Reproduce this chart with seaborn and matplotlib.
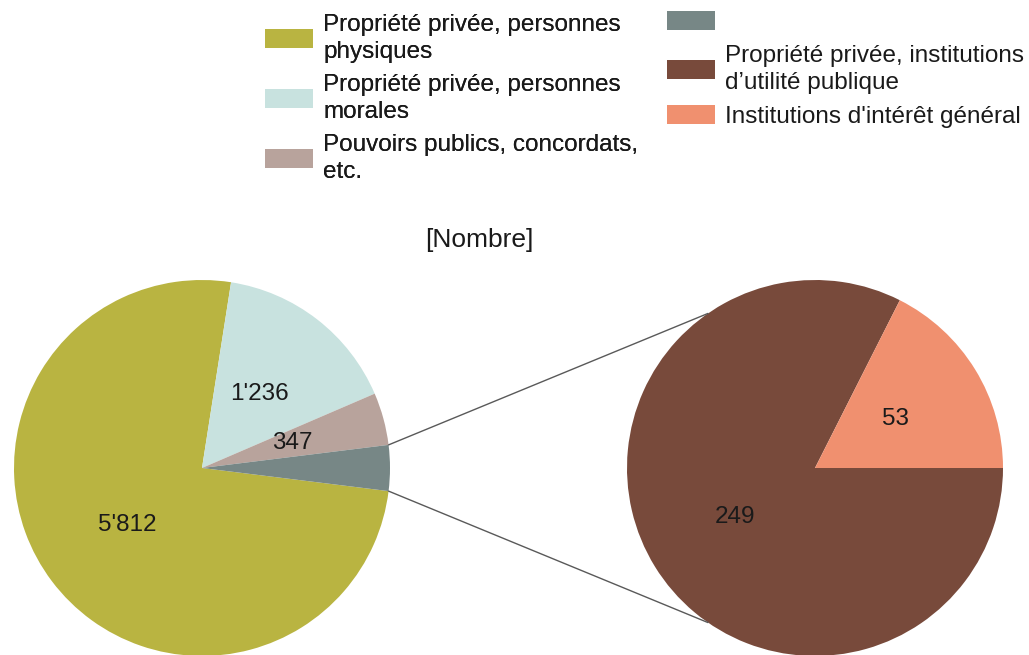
import numpy as np
import matplotlib.pyplot as plt
import seaborn as sns
from matplotlib.patches import Patch

# data
main_labels = ["Propriété privée, personnes\nphysiques",
               "Propriété privée, personnes\nmorales",
               "Pouvoirs publics, concordats,\netc.",
               " "]
sub_labels = ["Propriété privée, institutions\nd’utilité publique",
              "Institutions d'intérêt général"]
sub_values = [249, 53]
main_values = [5812, 1236, 347, sum(sub_values)]
main_colors = ["#b9b441", "#c8e2df", "#b8a39c", "#778786"]
sub_colors = ["#784a3b", "#f0906f"]
title = "[Nombre]"

sns.set_theme(style="white")
plt.rcParams['font.family'] = ['Liberation Sans', 'DejaVu Sans']
FS = 17.5


def value_fmt(values, hide=()):
    it = iter(values)

    def f(p):
        v = next(it)
        return "" if v in hide else f"{v:,}".replace(",", "'")
    return f


fig = plt.figure(figsize=(10.29, 6.55), dpi=100)
ax = fig.add_axes([0, 0, 1, 1])

R = 188
c_left = (202, 187)
c_right = (815, 187)

total = sum(main_values)
half = 360 * main_values[-1] / total / 2
ax.pie(main_values, colors=main_colors, radius=R, center=c_left,
       startangle=-half, counterclock=False,
       autopct=value_fmt(main_values, hide=(main_values[-1],)),
       pctdistance=0.5, wedgeprops=dict(linewidth=0),
       textprops=dict(fontsize=FS, color="#1a1a1a"))

sub_start = 360 * sub_values[1] / sum(sub_values)
ax.pie(sub_values, colors=sub_colors, radius=R, center=c_right,
       startangle=sub_start, counterclock=True,
       autopct=value_fmt(sub_values), pctdistance=0.5,
       wedgeprops=dict(linewidth=0),
       textprops=dict(fontsize=FS, color="#1a1a1a"))

# connector lines
for s in (1, -1):
    a1 = np.deg2rad(s * half)
    a2 = np.deg2rad(s * 124.7)
    ax.plot([c_left[0] + R * np.cos(a1), c_right[0] + R * np.cos(a2)],
            [c_left[1] + R * np.sin(a1), c_right[1] + R * np.sin(a2)],
            color="#595959", lw=1)

ax.text(479, 655 - 240, title, ha="center", va="center", fontsize=19, color="#1a1a1a")

ax.set_xlim(0, 1029)
ax.set_ylim(0, 655)
ax.set_aspect("auto")
ax.axis("off")

leg_kw = dict(loc="upper left", frameon=False, fontsize=FS,
              handlelength=1.98, handleheight=0.82, handletextpad=0.41,
              labelspacing=0.45, borderpad=0, borderaxespad=0,
              labelcolor="#1a1a1a")
h_main = [Patch(facecolor=c, edgecolor="none") for c in main_colors[:3]]
h_sub = [Patch(facecolor=c, edgecolor="none") for c in main_colors[3:] + sub_colors]
leg1 = fig.legend(h_main, main_labels[:3], bbox_to_anchor=(265 / 1029, 1 - 14 / 655), **leg_kw)
for t in leg1.get_texts():
    t.set_linespacing(1.29)
fig.add_artist(leg1)
leg2 = fig.legend(h_sub, main_labels[3:] + sub_labels, bbox_to_anchor=(667 / 1029, 1 - 11 / 655), **leg_kw)
for t in leg2.get_texts():
    t.set_linespacing(1.29)

fig.savefig("out.png", dpi=100)
